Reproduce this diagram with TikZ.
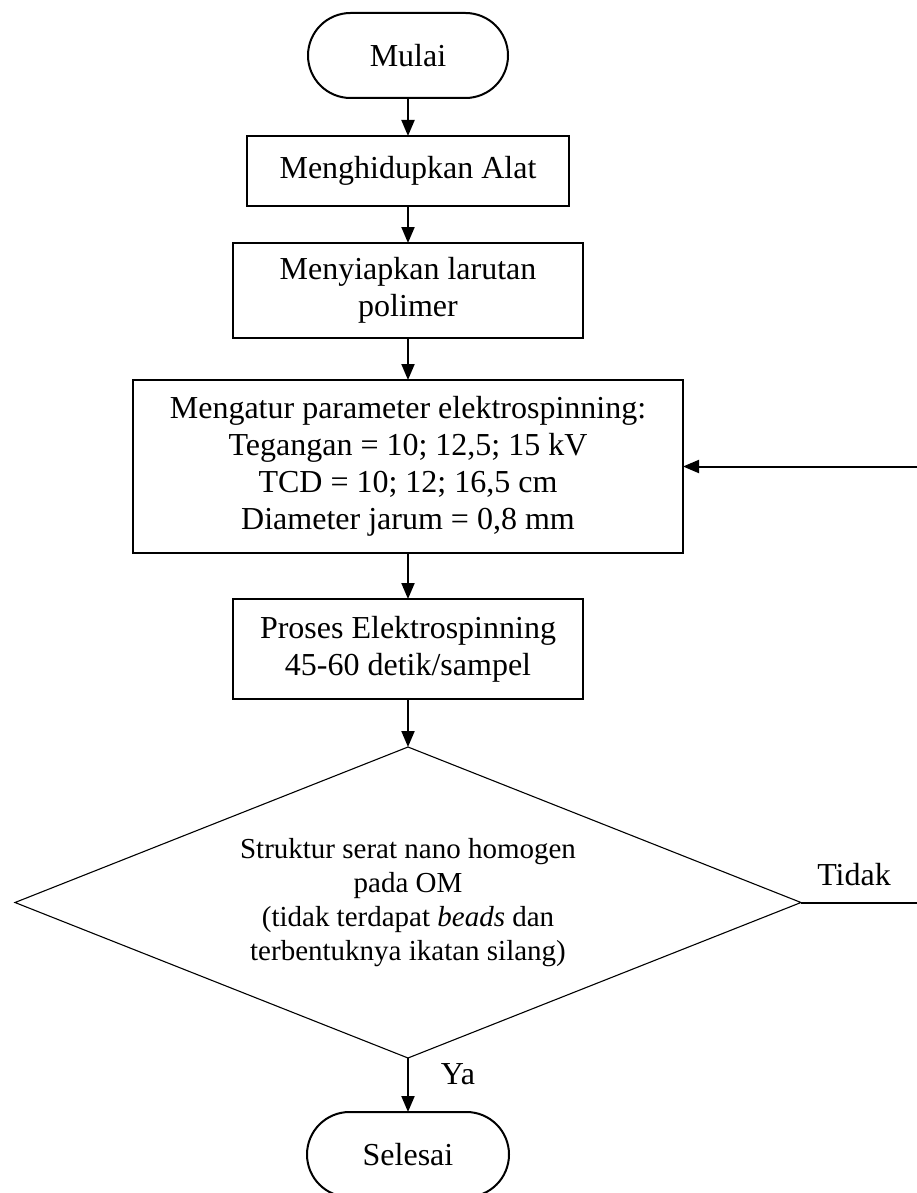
\documentclass[tikz,border=0pt]{standalone}
\usepackage{fontspec}
\setmainfont{Liberation Serif}
\usetikzlibrary{arrows.meta,shapes.geometric}
\begin{document}
\begin{tikzpicture}[x=1pt,y=-1pt,
  box/.style={draw,line width=2pt,inner sep=0pt,outer sep=0pt,align=center,font=\fontsize{32}{37}\selectfont},
  term/.style={box,rounded corners=42.5pt},
  dec/.style={draw,diamond,shape aspect=2.527,line width=1.1pt,inner sep=0pt,outer sep=0pt,align=center,font=\fontsize{29}{34}\selectfont},
  arr/.style={line width=2pt,-{Triangle[width=13pt,length=16pt]}},
  lbl/.style={font=\fontsize{32}{37}\selectfont,inner sep=0pt}]
\useasboundingbox (0,0) rectangle (917,1193);
\node[term,minimum width=200pt,minimum height=85pt] (start) at (408,55.5) {Mulai};
\node[box,minimum width=322pt,minimum height=70pt] (b1) at (408,171) {Menghidupkan Alat};
\node[box,minimum width=350pt,minimum height=95pt] (b2) at (408,290.5) {Menyiapkan larutan\\polimer};
\node[box,minimum width=550pt,minimum height=173pt] (b3) at (408,466.5) {Mengatur parameter elektrospinning:\\Tegangan = 10; 12,5; 15 kV\\TCD = 10; 12; 16,5 cm\\Diameter jarum = 0,8 mm};
\node[box,minimum width=350pt,minimum height=100pt] (b4) at (408,649) {Proses Elektrospinning\\45-60 detik/sampel};
\node[dec,minimum width=786pt,minimum height=311pt] (dec) at (408,902.5) {Struktur serat nano homogen\\pada OM\\(tidak terdapat \textit{beads} dan\\terbentuknya ikatan silang)};
\node[term,minimum width=202pt,minimum height=85pt] (end) at (408,1154.5) {Selesai};
\draw[arr] (start) -- (b1);
\draw[arr] (b1) -- (b2);
\draw[arr] (b2) -- (b3);
\draw[arr] (b3) -- (b4);
\draw[arr] (b4) -- (dec);
\draw[arr] (dec) -- (end);
\coordinate (r1) at (925,902.5);
\coordinate (r2) at (925,466.5);
\draw[arr] (dec.east) -- (r1) -- (r2) -- (b3.east);
\node[lbl] (ya) at (458,1074) {Ya};
\node[lbl] (tidak) at (854,875) {Tidak};
\end{tikzpicture}
\end{document}
